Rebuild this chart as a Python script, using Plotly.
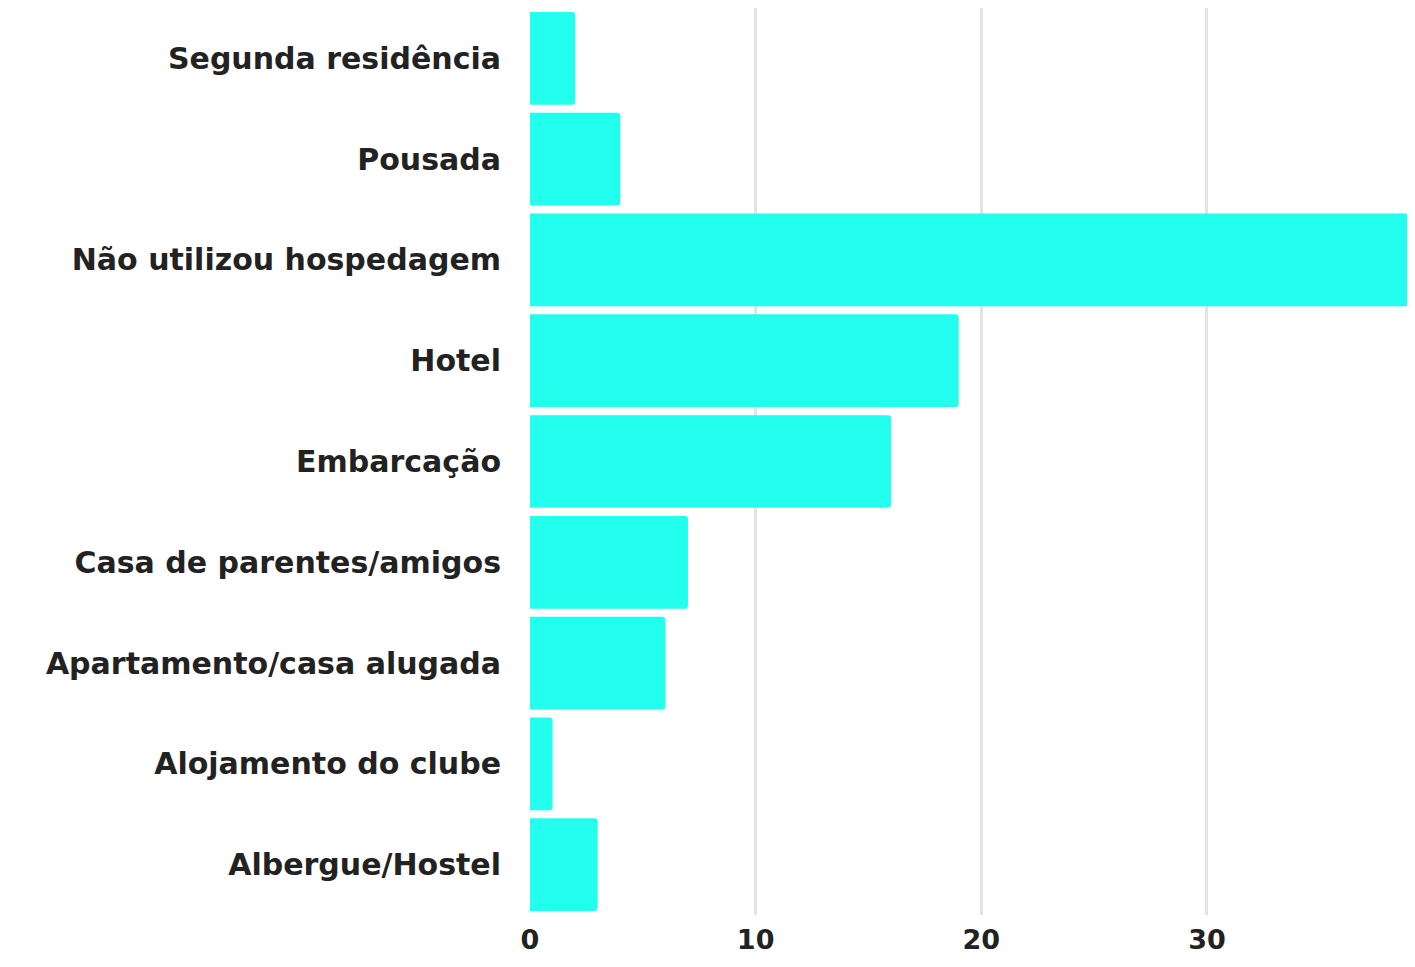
import plotly.graph_objects as go

# accommodation type (top to bottom) and counts
categories = [
    "Segunda residência",
    "Pousada",
    "Não utilizou hospedagem",
    "Hotel",
    "Embarcação",
    "Casa de parentes/amigos",
    "Apartamento/casa alugada",
    "Alojamento do clube",
    "Albergue/Hostel",
]
counts = [2, 4, 39, 19, 16, 7, 6, 1, 3]
x_ticks = [0, 10, 20, 30]

BAR_COLOR = "#22FFEE"
FONT = dict(family="DejaVu Sans, Open Sans, sans-serif", size=30, color="#222222", weight=700)

fig = go.Figure(
    go.Bar(
        x=counts,
        y=categories,
        orientation="h",
        marker=dict(color=BAR_COLOR, line=dict(width=0), cornerradius=3),
        hoverinfo="x+y",
    )
)

# page body has an 8px margin, so the figure is a bit smaller than the window
fig.update_layout(
    width=1407,
    height=959,
    paper_bgcolor="white",
    plot_bgcolor="white",
    font=FONT,
    bargap=0.08,
    showlegend=False,
    margin=dict(l=522, r=5, t=0, b=52),
)
fig.update_xaxes(
    range=[0, 39],
    tickvals=x_ticks,
    showgrid=True,
    gridcolor="#e3e3e3",
    gridwidth=3,
    zeroline=False,
    showline=False,
    ticks="",
    tickfont=dict(size=27),
    ticklabelstandoff=6,
)
fig.update_yaxes(
    autorange="reversed",
    showgrid=False,
    showline=False,
    ticks="",
    ticklabelstandoff=28,
)

fig.write_html("out.html")
